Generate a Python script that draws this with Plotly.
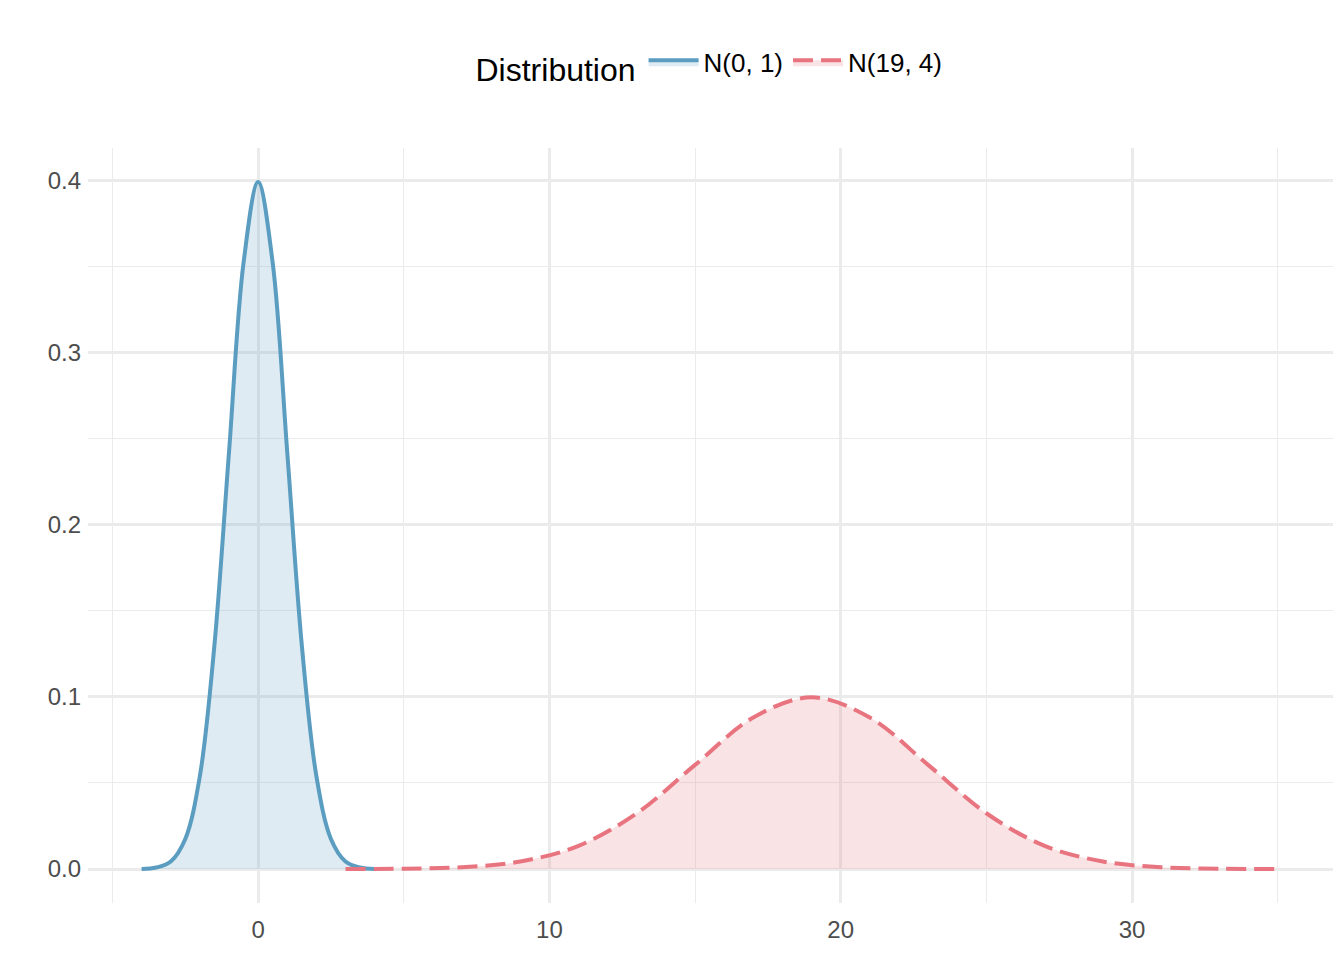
import plotly.graph_objects as go

# Values
x_a = [-4, -3.5, -3, -2.5, -2, -1.5, -1, -0.5, 0, 0.5, 1, 1.5, 2, 2.5, 3, 3.5, 4]
y_a = [0.0001, 0.0009, 0.0044, 0.0175, 0.054, 0.13, 0.242, 0.352, 0.399,
       0.352, 0.242, 0.13, 0.054, 0.0175, 0.0044, 0.0009, 0.0001]
x_b = [3, 5, 7, 9, 11, 13, 15, 17, 19, 21, 23, 25, 27, 29, 31, 33, 35]
y_b = [0.00003, 0.0002, 0.0011, 0.0044, 0.0135, 0.0324, 0.0605, 0.088, 0.0997,
       0.088, 0.0605, 0.0324, 0.0135, 0.0044, 0.0011, 0.0002, 0.00003]
names = ["N(0, 1)", "N(19, 4)"]

fig = go.Figure()
fig.add_trace(go.Scatter(x=x_a, y=y_a, name=names[0], mode="lines", line_shape="spline",
                         fill="tozeroy", fillcolor="rgba(91,157,192,0.2)",
                         line=dict(color="#5A9DC0", width=4)))
fig.add_trace(go.Scatter(x=x_b, y=y_b, name=names[1], mode="lines", line_shape="spline",
                         fill="tozeroy", fillcolor="rgba(232,116,127,0.2)",
                         line=dict(color="#E8747F", width=4, dash="20px,8px")))

ax = dict(showline=False, zeroline=False, gridcolor="#EBEBEB", gridwidth=2.5,
          tickfont=dict(size=24, color="#4D4D4D"), ticks="", automargin=False)
fig.update_layout(
    width=1344, height=960, plot_bgcolor="white", paper_bgcolor="white",
    font=dict(family="Liberation Sans, Arial, sans-serif"),
    margin=dict(l=80, r=19, t=140, b=65),
    xaxis=dict(range=[-5.84, 36.9], tickvals=[0, 10, 20, 30], ticklabelstandoff=10,
               minor=dict(tickvals=[-5, 5, 15, 25, 35], showgrid=True, gridcolor="#EBEBEB", gridwidth=1.2), **ax),
    yaxis=dict(range=[-0.0197, 0.4187], tickvals=[0, 0.1, 0.2, 0.3, 0.4], tickformat=".1f",
               ticklabelstandoff=6,
               minor=dict(tickvals=[0.05, 0.15, 0.25, 0.35], showgrid=True, gridcolor="#EBEBEB", gridwidth=1.2), **ax),
    legend=dict(orientation="h", x=0.5, xanchor="center", y=1.11, yanchor="middle",
                title=dict(text="Distribution", font=dict(size=32, color="black")),
                font=dict(size=26, color="black"), itemwidth=50),
)
fig.write_html("out.html")
